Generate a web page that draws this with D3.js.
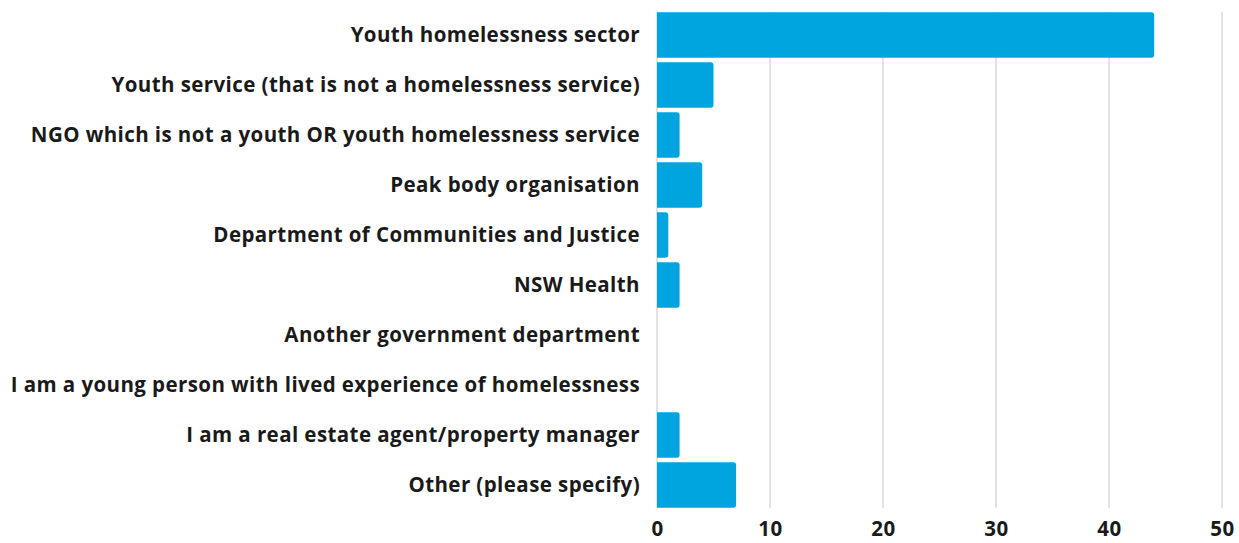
<!DOCTYPE html>
<html>
<head>
<meta charset="utf-8">
<script src="https://cdn.jsdelivr.net/npm/d3@7"></script>
<style>
  html, body { margin: 0; padding: 0; background: #fff; }
  svg text { font-family: "Open Sans", "Lato", sans-serif; font-weight: 700; fill: #1a1a1a; }
</style>
</head>
<body>
<svg id="chart" width="1239" height="543"></svg>
<script>
// Respondent groups and counts
const categories = [
  "Youth homelessness sector",
  "Youth service (that is not a homelessness service)",
  "NGO which is not a youth OR youth homelessness service",
  "Peak body organisation",
  "Department of Communities and Justice",
  "NSW Health",
  "Another government department",
  "I am a young person with lived experience of homelessness",
  "I am a real estate agent/property manager",
  "Other (please specify)"
];
const counts = [44, 5, 2, 4, 1, 2, 0, 0, 2, 7];
const xTicks = [0, 10, 20, 30, 40, 50];

const svg = d3.select("#chart");
const margin = { left: 657, right: 17, top: 10, bottom: 33 };
const W = 1239, H = 543;

const x = d3.scaleLinear().domain([0, 50]).range([margin.left, W - margin.right]);
const y = d3.scaleBand().domain(categories).range([margin.top, H - margin.bottom]).paddingInner(0.09).paddingOuter(0.045);

const gridTop = y(categories[0]);
const gridBottom = y(categories[categories.length - 1]) + y.bandwidth();

// vertical gridlines
svg.append("g")
  .selectAll("line")
  .data(xTicks)
  .join("line")
  .attr("x1", d => x(d)).attr("x2", d => x(d))
  .attr("y1", gridTop).attr("y2", gridBottom)
  .attr("stroke", "#c6c6c6").attr("stroke-width", 1);

// bars with rounded right-hand corners
const r = 3;
function barPath(d, i) {
  const x0 = x(0), x1 = x(d), y0 = y(categories[i]), h = y.bandwidth();
  if (x1 - x0 <= 0) return "";
  const rr = Math.min(r, (x1 - x0) / 2);
  return `M${x0},${y0}H${x1 - rr}Q${x1},${y0} ${x1},${y0 + rr}V${y0 + h - rr}Q${x1},${y0 + h} ${x1 - rr},${y0 + h}H${x0}Z`;
}
svg.append("g")
  .selectAll("path")
  .data(counts)
  .join("path")
  .attr("d", barPath)
  .attr("fill", "#00a5df");

// category labels
svg.append("g")
  .selectAll("text")
  .data(categories)
  .join("text")
  .attr("x", margin.left - 17)
  .attr("y", d => y(d) + y.bandwidth() / 2)
  .attr("dy", "0.35em")
  .attr("text-anchor", "end")
  .attr("font-size", 20.5)
  .attr("letter-spacing", 0.42)
  .text(d => d);

// x axis tick labels
const xAxis = d3.axisBottom(x).tickValues(xTicks).tickSize(0).tickPadding(0);
const gx = svg.append("g")
  .attr("transform", `translate(0,${gridBottom})`)
  .call(xAxis);
gx.select(".domain").remove();
gx.selectAll("text")
  .attr("y", 28.5)
  .attr("dy", null)
  .attr("font-size", 20.5)
  .attr("letter-spacing", 0.5)
  .attr("font-family", null)
  .attr("fill", null);
</script>
</body>
</html>
